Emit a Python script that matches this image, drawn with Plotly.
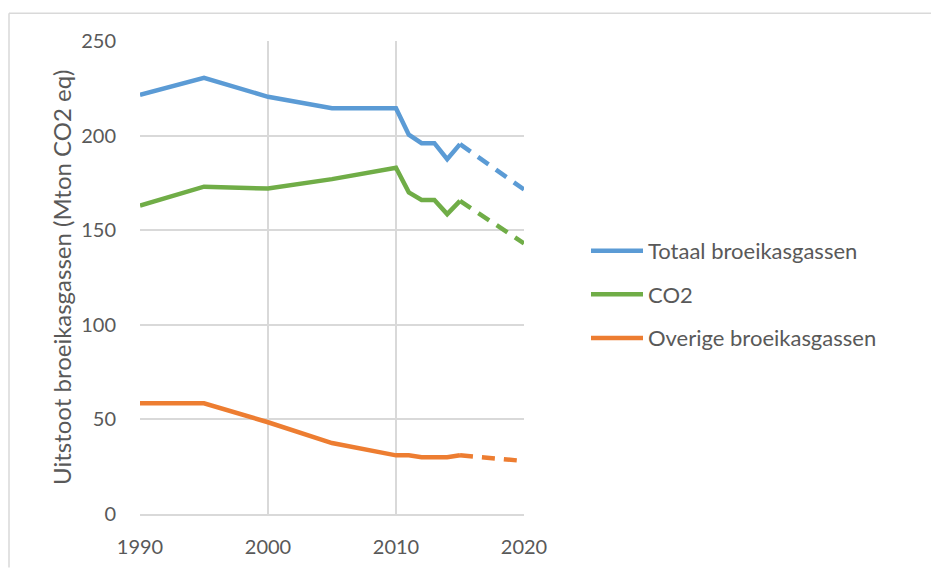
import plotly.graph_objects as go

years = [1990, 1995, 2000, 2005, 2010, 2011, 2012, 2013, 2014, 2015]
proj_years = [2015, 2020]

totaal = [221.5, 230.5, 220.5, 214.5, 214.5, 200.5, 196, 196, 187.5, 195.5]
totaal_proj = [195.5, 171.5]

co2 = [163, 173, 172, 177, 183, 170, 166, 166, 158.5, 165.5]
co2_proj = [165.5, 143]

overige = [58.5, 58.5, 48.5, 37.5, 31, 31, 30, 30, 30, 31]
overige_proj = [31, 28]

names = ["Totaal broeikasgassen", "CO2", "Overige broeikasgassen"]
colors = ["#5B9BD5", "#70AD47", "#ED7D31"]

x_ticks = [1990, 2000, 2010, 2020]
y_ticks = [0, 50, 100, 150, 200, 250]

FONT = "Lato"
TXT = "#595959"
GRID = "#D9D9D9"

fig = go.Figure()
series = [(totaal, totaal_proj), (co2, co2_proj), (overige, overige_proj)]
for i, ((hist, proj), name, col) in enumerate(zip(series, names, colors)):
    fig.add_trace(go.Scatter(x=years, y=hist, mode="lines", name=name,
                             legendgroup=f"g{i}",
                             line=dict(color=col, width=4.5)))
    fig.add_trace(go.Scatter(x=proj_years, y=proj, mode="lines", name=name,
                             legendgroup=f"g{i}", showlegend=False,
                             line=dict(color=col, width=4.5, dash="13px,9px")))

OFF = 8  # page body margin
W, H = 939 - OFF, 570 - OFF
L, R, T, B = 140 - OFF, 524 - OFF, 41 - OFF, 518 - OFF
pw, ph = R - L, B - T

def px(x):
    return (x - OFF - L) / pw

def py(y):
    return (B - (y - OFF)) / ph

fig.update_layout(
    width=W, height=H,
    margin=dict(l=L, r=W - R, t=T, b=H - B),
    paper_bgcolor="white", plot_bgcolor="white",
    font=dict(family=FONT, size=20, color=TXT),
    showlegend=True,
    legend=dict(x=px(586), y=py(231.5), xanchor="left", yanchor="top",
                traceorder="grouped", tracegroupgap=12,
                font=dict(family=FONT, size=22, color=TXT),
                itemwidth=52, bgcolor="rgba(0,0,0,0)"),
    xaxis=dict(range=[1990, 2020], tickvals=x_ticks, showgrid=True,
               gridcolor=GRID, gridwidth=1.5, zeroline=False,
               showline=True, linecolor=GRID, linewidth=1.5,
               ticks="", ticklabelstandoff=14,
               tickfont=dict(family=FONT, size=20, color=TXT)),
    yaxis=dict(range=[0, 250], tickvals=y_ticks, showgrid=True,
               gridcolor=GRID, gridwidth=1.5, zeroline=False,
               showline=False, ticks="", ticklabelstandoff=23,
               tickfont=dict(family=FONT, size=20, color=TXT)),
    annotations=[dict(text="Uitstoot broeikasgassen (Mton CO2 eq)",
                      xref="paper", yref="paper", x=px(62), y=py(280),
                      xanchor="center", yanchor="middle", textangle=-90,
                      showarrow=False,
                      font=dict(family=FONT, size=24, color=TXT))],
    shapes=[dict(type="line", xref="paper", yref="paper",
                 x0=px(9), y0=py(572), x1=px(9), y1=py(13),
                 line=dict(color=GRID, width=1.5)),
            dict(type="line", xref="paper", yref="paper",
                 x0=px(9), y0=py(13), x1=px(942), y1=py(13),
                 line=dict(color=GRID, width=1.5))],
)

fig.write_html("out.html")
